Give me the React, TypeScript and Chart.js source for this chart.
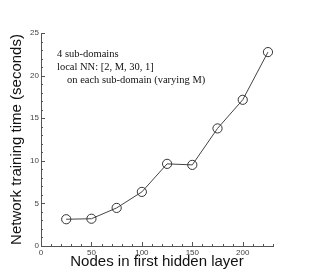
import React, { useEffect, useRef } from "react";
import { Chart, registerables } from "chart.js";

Chart.register(...registerables);

const nodes = [25, 50, 75, 100, 125, 150, 175, 200, 225];
const trainingTime = [3.14, 3.2, 4.47, 6.35, 9.64, 9.52, 13.8, 17.16, 22.76];
const annotationLines = ["4 sub-domains", "local NN: [2, M, 30, 1]", "on each sub-domain (varying M)"];
const annotationIndent = [0, 0, 10];
const xTitle = "Nodes in first hidden layer";
const yTitle = "Network training time (seconds)";

const W = 311;
const H = 277;

const innerTicks = {
  id: "innerTicks",
  afterDraw(chart: any) {
    const ctx = chart.ctx;
    const xs = chart.scales.x;
    const ys = chart.scales.y;
    const area = chart.chartArea;
    ctx.save();
    ctx.strokeStyle = "#555";
    ctx.lineWidth = 1;
    ctx.beginPath();
    for (let v = 0; v <= 230; v += 10) {
      const px = Math.round(xs.getPixelForValue(v)) + 0.5;
      const len = v % 50 === 0 ? 4 : 2;
      ctx.moveTo(px, area.bottom);
      ctx.lineTo(px, area.bottom - len);
    }
    for (let v = 0; v <= 25; v += 1) {
      const py = Math.round(ys.getPixelForValue(v)) + 0.5;
      const len = v % 5 === 0 ? 4 : 2;
      ctx.moveTo(area.left, py);
      ctx.lineTo(area.left + len, py);
    }
    ctx.stroke();
    // annotation
    ctx.fillStyle = "#111";
    ctx.font = "10.5px 'Liberation Serif', 'Times New Roman', serif";
    ctx.textBaseline = "middle";
    ctx.textAlign = "left";
    annotationLines.forEach((t, i) => {
      ctx.fillText(t, area.left + 16 + annotationIndent[i], area.top + 21 + i * 13);
    });
    ctx.restore();
  },
};

export default function App() {
  const ref = useRef<HTMLCanvasElement>(null);
  useEffect(() => {
    if (!ref.current) return;
    const chart = new Chart(ref.current, {
      type: "line",
      data: {
        datasets: [
          {
            data: nodes.map((x, i) => ({ x, y: trainingTime[i] })),
            borderColor: "#444",
            borderWidth: 1,
            pointRadius: 4.6,
            pointBorderColor: "#333",
            pointBackgroundColor: "rgba(0,0,0,0)",
            pointBorderWidth: 1,
            tension: 0,
          },
        ],
      },
      options: {
        responsive: false,
        animation: false,
        devicePixelRatio: 1,
        layout: { padding: { left: 0, top: 33, right: 38, bottom: 0 } },
        plugins: { legend: { display: false }, tooltip: { enabled: false } },
        scales: {
          x: {
            type: "linear",
            min: 0,
            max: 230,
            grid: { display: false, drawTicks: false },
            border: { display: true, color: "#555", width: 1 },
            ticks: {
              stepSize: 50,
              includeBounds: false,
              padding: 2,
              maxRotation: 0,
              color: "#444",
              font: { family: "'Liberation Sans', Arial, sans-serif", size: 8 },
            },
            title: {
              display: true,
              text: xTitle,
              color: "#111",
              padding: { top: 0, bottom: 6 },
              font: { family: "'Liberation Sans', Arial, sans-serif", size: 15 },
            },
            afterFit: (s: any) => {
              s.height = 31;
            },
          },
          y: {
            type: "linear",
            min: 0,
            max: 25,
            grid: { display: false, drawTicks: false },
            border: { display: true, color: "#555", width: 1 },
            ticks: {
              stepSize: 5,
              padding: 2,
              color: "#444",
              font: { family: "'Liberation Sans', Arial, sans-serif", size: 8 },
            },
            title: {
              display: true,
              text: yTitle,
              color: "#111",
              padding: { top: 7.5, bottom: 0 },
              font: { family: "'Liberation Sans', Arial, sans-serif", size: 15 },
            },
            afterFit: (s: any) => {
              s.width = 41;
            },
          },
        },
      },
      plugins: [innerTicks],
    });
    return () => chart.destroy();
  }, []);
  return (
    <div style={{ position: "fixed", left: 0, top: 0, width: W, height: H, background: "#fff" }}>
      <canvas ref={ref} width={W} height={H} style={{ width: W, height: H, display: "block" }} />
    </div>
  );
}
